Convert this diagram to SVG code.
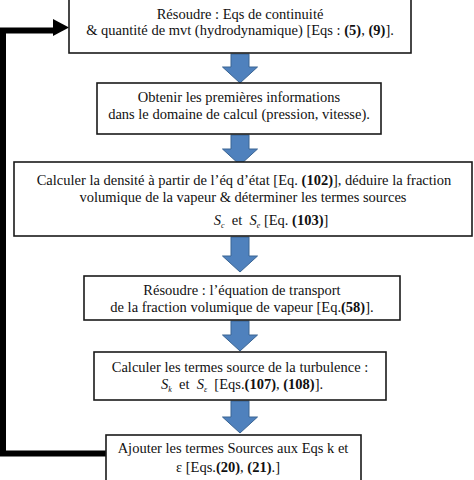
<svg xmlns="http://www.w3.org/2000/svg" width="474" height="480" viewBox="0 0 474 480">
<style>
.box{fill:#fff;stroke:#1a1a1a;stroke-width:1.6}
text{font-family:'Liberation Serif','Times New Roman','DejaVu Serif',serif;font-size:14.5px;fill:#111;text-anchor:middle}
.b{font-weight:bold}
.i{font-style:italic}
.sub{font-size:8px;font-style:italic}
.blk{fill:#4F81BD;stroke:#3A6493;stroke-width:1}
.fb{fill:none;stroke:#000;stroke-width:6;stroke-linejoin:miter}
</style>
<rect width="474" height="480" fill="#fff"/>

<g id="connectors">
<path class="blk" d="M231,54 H249 V67 H257.5 L240,83 L222.5,67 H231 Z"/>
<path class="blk" d="M231,135 H249 V149 H257.5 L240,165 L222.5,149 H231 Z"/>
<path class="blk" d="M231,237 H249 V256 H257.5 L240,272 L222.5,256 H231 Z"/>
<path class="blk" d="M231,321 H249 V335 H257.5 L240,351 L222.5,335 H231 Z"/>
<path class="blk" d="M231,401 H249 V417 H257.5 L240,433 L222.5,417 H231 Z"/>
<path class="fb" d="M106,453.5 H3 V30.5 H55"/>
<path d="M53,19 L69,27.5 L53,36 Z" fill="#000"/>
</g>

<g id="n1">
<rect class="box" x="69" y="-4" width="342" height="57"/>
<text x="240" y="19">Résoudre : Eqs de continuité</text>
<text x="240" y="35">&amp; quantité de mvt (hydrodynamique) [Eqs : <tspan class="b">(5)</tspan>, <tspan class="b">(9)</tspan>].</text>
</g>

<g id="n2">
<rect class="box" x="97" y="83" width="284" height="51"/>
<text x="239" y="102">Obtenir les premières informations</text>
<text x="239" y="119">dans le domaine de calcul (pression, vitesse).</text>
</g>

<g id="n3">
<rect class="box" x="14" y="162" width="458" height="74"/>
<text x="244" y="185">Calculer la densité à partir de l’éq d’état [Eq. <tspan class="b">(102)</tspan>], déduire la fraction</text>
<text x="243" y="202">volumique de la vapeur &amp; déterminer les termes sources</text>
<text x="271" y="225"><tspan class="i">S</tspan><tspan class="sub" dy="3">c</tspan><tspan dy="-3">&#160;&#160;et&#160;&#160;</tspan><tspan class="i">S</tspan><tspan class="sub" dy="3">e</tspan><tspan dy="-3">&#160;[Eq. </tspan><tspan class="b">(103)</tspan>]</text>
</g>

<g id="n4">
<rect class="box" x="84" y="276" width="316" height="44"/>
<text x="242" y="295">Résoudre : l’équation de transport</text>
<text x="242" y="312">de la fraction volumique de vapeur [Eq.<tspan class="b">(58)</tspan>].</text>
</g>

<g id="n5">
<rect class="box" x="94" y="352" width="292" height="48"/>
<text x="240" y="372">Calculer les termes source de la turbulence :</text>
<text x="242" y="389"><tspan class="i">S</tspan><tspan class="sub" dy="3">k</tspan><tspan dy="-3">&#160;&#160;et&#160;&#160;</tspan><tspan class="i">S</tspan><tspan class="sub" dy="3">ε</tspan><tspan dy="-3">&#160;&#160;[Eqs.</tspan><tspan class="b">(107)</tspan>, <tspan class="b">(108)</tspan>].</text>
</g>

<g id="n6">
<rect class="box" x="106" y="435" width="255" height="50"/>
<text x="233" y="453">Ajouter les termes Sources aux Eqs k et</text>
<text x="228" y="472">ε [Eqs.<tspan class="b">(20)</tspan>, <tspan class="b">(21)</tspan>.]</text>
</g>
</svg>
